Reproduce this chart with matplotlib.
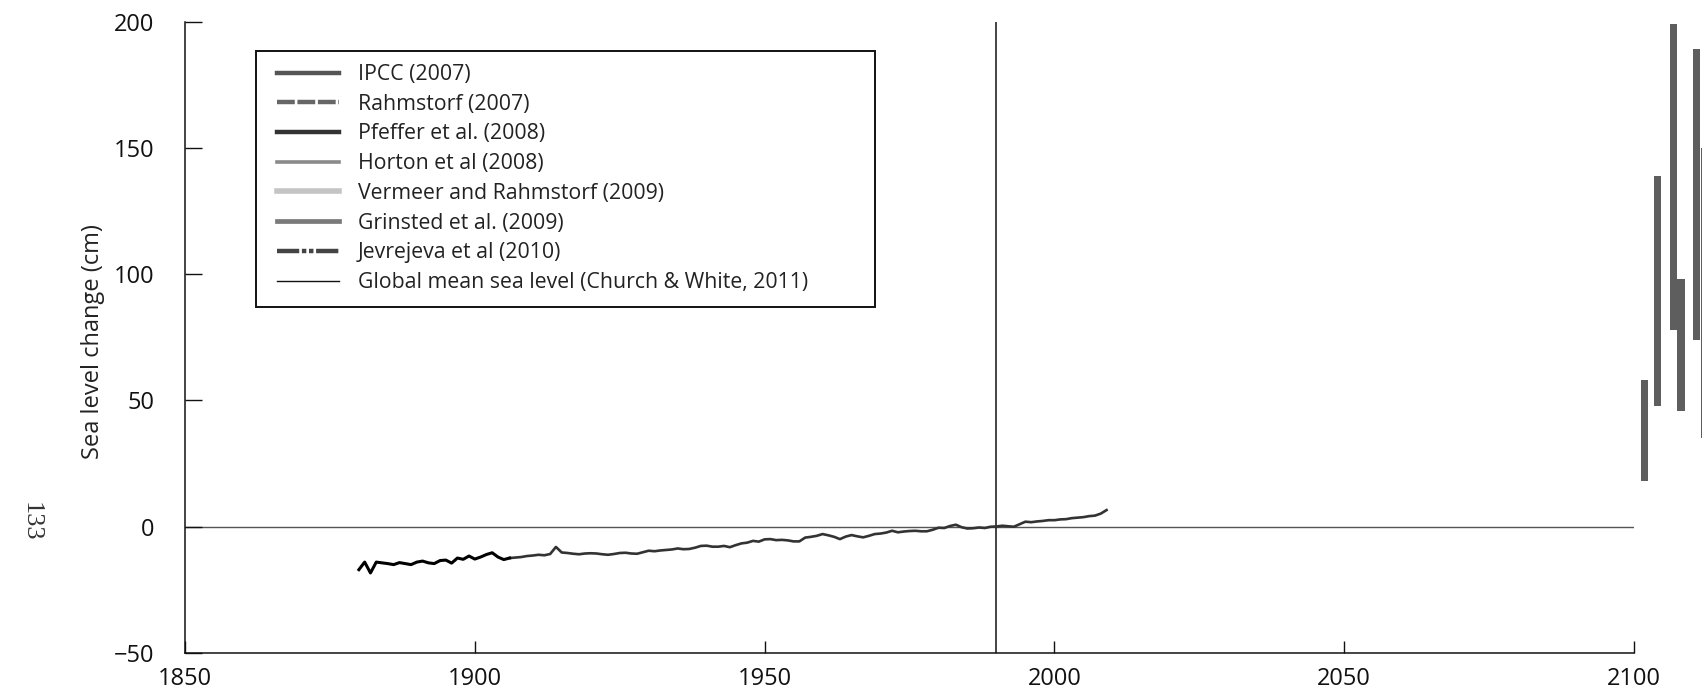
import matplotlib
matplotlib.use('Agg')
import matplotlib.pyplot as plt
from matplotlib.lines import Line2D
from matplotlib.patches import Rectangle

plt.rcParams['font.family'] = ['Open Sans', 'DejaVu Sans']

# ---- data ----
years_early = list(range(1880, 1907))
gmsl_early = [-17.0, -14.0, -18.3, -14.0, -14.3, -14.6, -15.0, -14.2, -14.6, -15.0,
              -14.0, -13.6, -14.3, -14.6, -13.4, -13.2, -14.4, -12.4, -12.9, -11.6,
              -12.8, -12.0, -11.0, -10.3, -12.0, -13.0, -12.4]

years_late = list(range(1906, 2010))
gmsl_late = [-12.4, -12.2, -12.0, -11.6, -11.4, -11.1, -11.3, -10.8, -8.0, -10.2,
             -10.4, -10.7, -10.9, -10.6, -10.5, -10.6, -10.9, -11.1, -10.8, -10.4,
             -10.3, -10.6, -10.7, -10.1, -9.5, -9.7, -9.4, -9.2, -9.0, -8.6,
             -8.9, -8.8, -8.3, -7.6, -7.5, -7.9, -7.9, -7.6, -8.1, -7.3,
             -6.6, -6.3, -5.6, -5.9, -5.0, -4.9, -5.3, -5.2, -5.4, -5.8,
             -5.8, -4.3, -4.0, -3.6, -2.9, -3.4, -4.0, -4.9, -3.9, -3.3,
             -3.8, -4.2, -3.6, -2.9, -2.7, -2.3, -1.6, -2.2, -1.9, -1.7,
             -1.6, -1.8, -1.8, -1.2, -0.4, -0.5, 0.3, 0.8, -0.2, -0.7,
             -0.6, -0.3, -0.5, 0.0, 0.1, 0.4, 0.2, 0.0, 1.0, 2.0,
             1.8, 2.1, 2.3, 2.6, 2.6, 2.9, 3.0, 3.4, 3.6, 3.8,
             4.2, 4.4, 5.2, 6.6]

projection_names = ['IPCC (2007)', 'Rahmstorf (2007)', 'Pfeffer et al. (2008)',
                    'Horton et al (2008)', 'Vermeer and Rahmstorf (2009)',
                    'Grinsted et al. (2009)']
projection_years = [2101.8, 2104.05, 2106.8, 2108.1, 2110.8, 2112.2]
projection_low = [18, 48, 78, 46, 74, 35]
projection_high = [58, 139, 199, 98, 189, 150]

legend_labels = ['IPCC (2007)', 'Rahmstorf (2007)', 'Pfeffer et al. (2008)',
                 'Horton et al (2008)', 'Vermeer and Rahmstorf (2009)',
                 'Grinsted et al. (2009)', 'Jevrejeva et al (2010)',
                 'Global mean sea level (Church & White, 2011)']

x_ticks = [1850, 1900, 1950, 2000, 2050, 2100]
y_ticks = [-50, 0, 50, 100, 150, 200]
reference_year = 1990

# ---- figure ----
W, H = 1702, 698
fig = plt.figure(figsize=(W / 100, H / 100), dpi=100)
fig.patch.set_facecolor('white')
ax = fig.add_axes([185 / W, 45 / H, (1634 - 185) / W, 631.3 / H])

ax.set_xlim(1850, 2100)
ax.set_ylim(-50, 200)

ax.axhline(0, color='#555555', lw=1.0, zorder=1)
ax.axvline(reference_year, color='#111111', lw=1.1, zorder=1)

ax.plot(years_late, gmsl_late, color='#333333', lw=1.9, zorder=3)
ax.plot(years_early, gmsl_early, color='#000000', lw=2.2, zorder=4)

heights = [h - l for h, l in zip(projection_high, projection_low)]
ax.bar(projection_years, heights, bottom=projection_low, width=1.3,
       color='#5e5e5e', clip_on=False, zorder=5)

for s in ['top', 'right']:
    ax.spines[s].set_visible(False)
for s in ['left', 'bottom']:
    ax.spines[s].set_linewidth(1.1)
    ax.spines[s].set_color('#111111')

ax.set_xticks(x_ticks)
ax.set_yticks(y_ticks)
ax.tick_params(axis='y', direction='in', length=12, width=1.0, pad=22,
               labelsize=17, colors='#111111')
ax.tick_params(axis='x', direction='in', length=8.6, width=1.0, pad=10,
               labelsize=17, colors='#111111')

ax.set_ylabel('Sea level change (cm)', fontsize=17, color='#222222')
ax.yaxis.set_label_coords((105 - 185) / 1449, 0.494)

fig.text(31 / W, 1 - 522 / H, '133', rotation=-90, ha='center', va='center',
         fontsize=19, family=['Liberation Serif', 'DejaVu Serif'], color='#333333')

# legend
handles = [
    Line2D([], [], color='#555555', lw=3.2),
    Line2D([], [], color='#666666', lw=3.2, dashes=(4, 0.6)),
    Line2D([], [], color='#333333', lw=3.2),
    Line2D([], [], color='#8a8a8a', lw=2.6),
    Line2D([], [], color='#c4c4c4', lw=4.0),
    Line2D([], [], color='#7a7a7a', lw=3.4),
    Line2D([], [], color='#444444', lw=3.2, dashes=(5, 0.6, 1, 0.6, 1, 0.6)),
    Line2D([], [], color='#111111', lw=1.0),
]
leg = ax.legend(handles, legend_labels, loc='upper left', frameon=False,
                bbox_to_anchor=(277 / W, 1 - 64 / H), bbox_transform=fig.transFigure,
                borderpad=0, borderaxespad=0, handlelength=2.9, handletextpad=0.9,
                labelspacing=0.41, fontsize=15.3)
for t in leg.get_texts():
    t.set_color('#222222')

fig.add_artist(Rectangle((256 / W, 1 - 307 / H), (875 - 256) / W, (307 - 51) / H,
                         transform=fig.transFigure, fill=False, edgecolor='#111111',
                         lw=1.4))

fig.savefig('out.png', dpi=100, facecolor='white')
